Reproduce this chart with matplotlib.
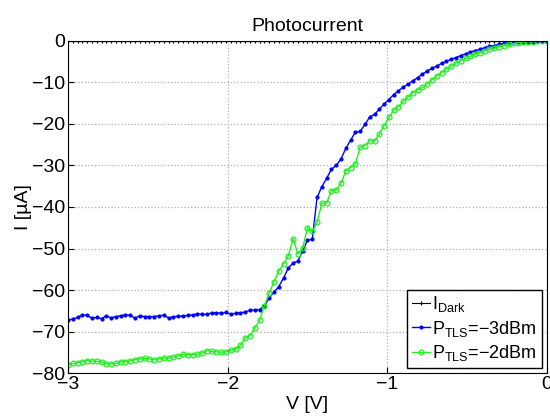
import numpy as np
import matplotlib
matplotlib.use("Agg")
import matplotlib.pyplot as plt

plt.rcParams["font.family"] = ["Liberation Sans", "DejaVu Sans"]

# voltage sweep, -3 V .. 0 V in 30 mV steps
voltage = np.round(np.arange(101) * 0.03 - 3.0, 2)

i_dark = [0.0] * 101

i_m3dbm = [
    -67.2, -67.0, -66.6, -66.0, -66.1, -66.8, -66.6, -66.9, -66.2, -66.7,
    -66.4, -66.2, -66.0, -66.1, -66.8, -66.2, -66.4, -66.4, -66.4, -66.2,
    -66.1, -66.7, -66.5, -66.3, -66.3, -66.1, -66.0, -65.8, -65.8, -65.9,
    -65.5, -65.5, -65.6, -65.4, -65.9, -65.6, -65.5, -65.3, -64.9, -64.8,
    -64.7, -63.8, -62.0, -60.5, -59.2, -57.1, -54.7, -53.5, -53.0, -50.6,
    -48.0, -47.8, -37.7, -35.1, -33.1, -30.9, -30.0, -28.4, -25.9, -23.9,
    -22.0, -21.8, -20.1, -18.3, -17.7, -16.4, -15.2, -14.1, -12.9, -12.0,
    -11.1, -10.4, -9.6, -8.8, -8.0, -7.2, -6.6, -6.0, -5.4, -4.9,
    -4.4, -4.0, -3.5, -3.1, -2.7, -2.3, -2.0, -1.6, -1.3, -1.1,
    -0.8, -0.6, -0.45, -0.35, -0.3, -0.25, -0.2, -0.15, -0.1, -0.05,
    0.0,
]

i_m2dbm = [
    -78.0, -77.7, -77.5, -77.3, -77.0, -77.1, -77.2, -77.3, -77.8, -77.8,
    -77.7, -77.3, -77.3, -77.1, -76.8, -76.6, -76.5, -76.6, -76.8, -76.6,
    -76.4, -76.4, -76.2, -75.8, -75.5, -75.6, -75.6, -75.5, -75.2, -74.6,
    -74.8, -74.9, -75.0, -74.9, -74.5, -74.3, -73.3, -71.6, -71.0, -69.1,
    -67.3, -63.8, -60.8, -58.0, -55.5, -53.7, -51.8, -47.6, -51.3, -49.9,
    -45.0, -45.9, -43.7, -39.1, -39.0, -36.1, -35.9, -34.3, -31.3, -30.5,
    -29.6, -25.6, -25.2, -24.1, -24.1, -22.4, -20.4, -18.4, -16.7, -15.9,
    -14.5, -13.4, -12.5, -11.8, -11.2, -10.4, -9.3, -8.4, -7.6, -6.8,
    -6.0, -5.3, -4.8, -4.2, -3.7, -3.2, -2.8, -2.4, -2.0, -1.7,
    -1.4, -1.1, -0.8, -0.6, -0.4, -0.3, -0.2, -0.2, -0.1, -0.1,
    0.0,
]

fig = plt.figure(figsize=(5.5, 4.17), dpi=100)
ax = fig.add_axes([0.1236, 0.1055, 0.8709, 0.7962])

ax.plot(voltage, i_dark, color="k", marker="+", markersize=3, linewidth=0.8,
        markeredgewidth=0.8, label="I$_{\\mathregular{Dark}}$")
ax.plot(voltage, i_m3dbm, color="#0000ff", marker=".", markersize=4,
        linewidth=1.0, label="P$_{\\mathregular{TLS}}$=\u22123dBm")
ax.plot(voltage, i_m2dbm, color="#22ee22", marker="o", markersize=3.5,
        markerfacecolor="none", markeredgewidth=0.9, linewidth=1.0,
        label="P$_{\\mathregular{TLS}}$=\u22122dBm")

ax.set_xlim(-3, 0)
ax.set_ylim(-80, 0)
ax.set_xticks([-3, -2, -1, 0])
ax.set_yticks(np.arange(-80, 1, 10))
ax.tick_params(direction="in", labelsize=14, length=4, pad=2)
ax.grid(True, linestyle=":", color="#b0b0b0", linewidth=0.9)

ax.set_title("Photocurrent", fontsize=14, pad=7)
ax.set_xlabel("V [V]", fontsize=14, labelpad=2)
ax.set_ylabel("I [\u00b5A]", fontsize=14, labelpad=0)

leg = ax.legend(loc="lower right", fontsize=13, handlelength=1.0,
                handletextpad=0.15, borderpad=0.25, labelspacing=0.25,
                fancybox=False, framealpha=1, borderaxespad=0.3)
leg.get_frame().set_edgecolor("k")
leg.get_frame().set_linewidth(1.0)

fig.savefig("out.png", dpi=100)
